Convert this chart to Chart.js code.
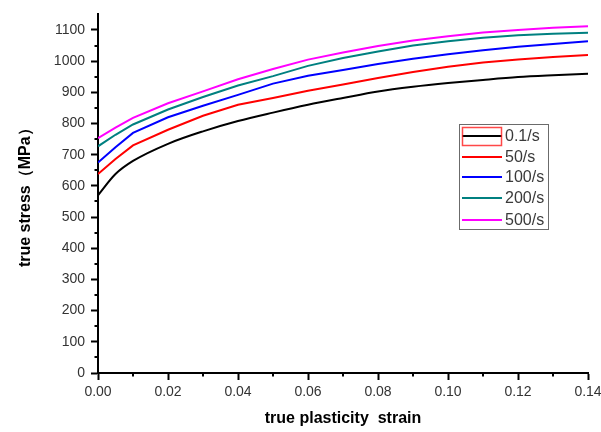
<!DOCTYPE html>
<html>
<head>
<meta charset="utf-8">
<script src="https://cdn.jsdelivr.net/npm/chart.js@4.4.1/dist/chart.umd.min.js"></script>
<style>
  html, body { margin: 0; padding: 0; background: #fff; }
  #wrap { width: 601px; height: 432px; position: relative; }
</style>
</head>
<body>
<div id="wrap"><canvas id="chart"></canvas></div>
<script>
// strain values (x) shared by all curves
const strain = [0, 0.005, 0.01, 0.02, 0.03, 0.04, 0.05, 0.06, 0.07, 0.08, 0.09, 0.10, 0.11, 0.12, 0.13, 0.14];

const rateLabels = ['0.1/s', '50/s', '100/s', '200/s', '500/s'];
const rateColors = ['#000000', '#ff0000', '#0000ff', '#008080', '#ff00ff'];

// true stress (MPa)
const stress01 = [570, 638, 680, 735, 775, 808, 835, 860, 882, 903, 918, 930, 940, 949, 955, 960];
const stress50 = [638, 686, 730, 780, 825, 860, 882, 905, 925, 946, 965, 982, 996, 1005, 1013, 1020];
const stress100 = [675, 724, 770, 820, 857, 892, 928, 953, 972, 991, 1008, 1022, 1035, 1046, 1055, 1064];
const stress200 = [727, 764, 797, 845, 885, 922, 952, 985, 1010, 1031, 1050, 1064, 1075, 1083, 1088, 1091];
const stress500 = [753, 787, 818, 865, 903, 942, 975, 1005, 1028, 1049, 1066, 1080, 1092, 1100, 1107, 1112];

const yTicks = [0, 100, 200, 300, 400, 500, 600, 700, 800, 900, 1000, 1100];
const xTicks = [0, 0.02, 0.04, 0.06, 0.08, 0.10, 0.12, 0.14];

const allStress = [stress01, stress50, stress100, stress200, stress500];

function toPoints(ys) {
  return ys.map((y, i) => ({ x: strain[i], y: y }));
}

// minor ticks (Chart.js has none) + legend box inside the plot
const extrasPlugin = {
  id: 'extras',
  afterDraw(chart) {
    const ctx = chart.ctx;
    const xs = chart.scales.x, ys = chart.scales.y;
    const area = chart.chartArea;
    ctx.save();
    ctx.strokeStyle = '#000';
    ctx.lineWidth = 2;
    ctx.beginPath();
    for (let v = 50; v < 1150; v += 100) {
      const py = Math.round(ys.getPixelForValue(v));
      ctx.moveTo(area.left - 3.5, py); ctx.lineTo(area.left, py);
    }
    for (let i = 1; i < 14; i += 2) {
      const px = Math.round(xs.getPixelForValue(i / 100));
      ctx.moveTo(px, area.bottom); ctx.lineTo(px, area.bottom + 3.5);
    }
    ctx.stroke();

    // legend
    const bx = 459.5, by = 124.5, bw = 89, bh = 105;
    ctx.fillStyle = '#fff';
    ctx.fillRect(bx, by, bw, bh);
    ctx.strokeStyle = '#6b6b6b';
    ctx.lineWidth = 1;
    ctx.strokeRect(bx, by, bw, bh);
    const rows = [136, 157, 177, 198, 220];
    ctx.font = '16px "Liberation Sans", Arial, sans-serif';
    ctx.textBaseline = 'middle';
    ctx.textAlign = 'left';
    chart.data.datasets.forEach((ds, i) => {
      ctx.strokeStyle = ds.borderColor;
      ctx.lineWidth = 2;
      ctx.beginPath();
      ctx.moveTo(462, rows[i]); ctx.lineTo(502, rows[i]);
      ctx.stroke();
      ctx.fillStyle = '#3a3a3a';
      ctx.fillText(ds.label, 505, rows[i] + 1);
    });
    // selection highlight around the first entry
    ctx.strokeStyle = 'rgba(255,40,40,0.85)';
    ctx.lineWidth = 1.5;
    ctx.strokeRect(462.5, 127.5, 39, 18);
    ctx.restore();
  }
};

const tickFont = { family: '"Liberation Sans", Arial, sans-serif', size: 14 };
const titleFont = { family: '"Liberation Sans", Arial, sans-serif', size: 16, weight: 'bold' };

new Chart(document.getElementById('chart'), {
  type: 'line',
  data: {
    datasets: allStress.map((ys, i) => ({
      label: rateLabels[i],
      data: toPoints(ys),
      borderColor: rateColors[i],
      backgroundColor: rateColors[i],
      borderWidth: 2,
      pointRadius: 0,
      tension: 0,
      cubicInterpolationMode: i === 0 ? 'monotone' : 'default',
      fill: false
    }))
  },
  options: {
    responsive: true,
    maintainAspectRatio: false,
    animation: false,
    layout: { padding: { top: 8, right: 13, left: 0, bottom: 0 } },
    plugins: {
      legend: { display: false },
      tooltip: { enabled: false }
    },
    scales: {
      x: {
        type: 'linear',
        min: 0,
        max: 0.14,
        afterBuildTicks: s => { s.ticks = xTicks.map(v => ({ value: v })); },
        afterFit: s => { s.height = 59; s.paddingLeft = 0; s.paddingRight = 0; },
        border: { color: '#000', width: 2 },
        grid: { display: true, drawOnChartArea: false, tickLength: 7, tickColor: '#000', tickWidth: 2 },
        ticks: {
          color: '#333',
          font: tickFont,
          padding: 4,
          maxRotation: 0,
          autoSkip: false,
          callback: v => Number(v).toFixed(2)
        },
        title: {
          display: true,
          text: 'true plasticity  strain',
          color: '#000',
          font: titleFont,
          padding: { top: 0, bottom: 4 }
        }
      },
      y: {
        min: 0,
        max: 1150,
        afterBuildTicks: s => { s.ticks = yTicks.map(v => ({ value: v })); },
        afterFit: s => { s.width = 98; },
        border: { color: '#000', width: 2 },
        grid: { display: true, drawOnChartArea: false, tickLength: 7, tickColor: '#000', tickWidth: 2 },
        ticks: {
          color: '#333',
          font: tickFont,
          padding: 6,
          autoSkip: false,
          callback: v => String(v)
        },
        title: {
          display: true,
          text: 'true stress（MPa）',
          color: '#000',
          font: titleFont,
          padding: { top: 16, bottom: 0 }
        }
      }
    }
  },
  plugins: [extrasPlugin]
});
</script>
</body>
</html>
